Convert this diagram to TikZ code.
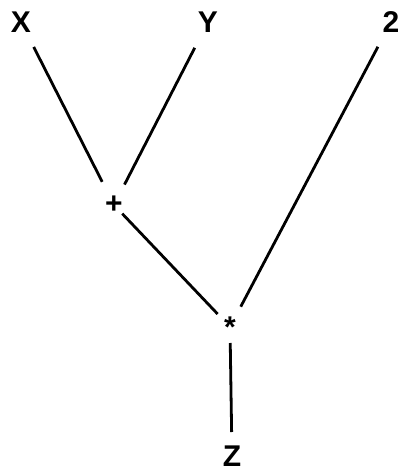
\documentclass[tikz,border=0pt]{standalone}
\usepackage{fontspec}
\setmainfont{Liberation Sans}
\begin{document}
\begin{tikzpicture}[x=1pt,y=-1pt,
  lbl/.style={font=\fontsize{30}{30}\selectfont\bfseries, inner sep=0pt},
  op/.style={font=\fontsize{30}{30}\selectfont\bfseries, inner sep=0pt},
  edge/.style={line width=2.8pt}]
\useasboundingbox (0,0) rectangle (400,474);
\node[lbl] (X) at (21,22) {X};
\node[lbl] (Y) at (208,22) {Y};
\node[lbl] (T) at (391,22) {2};
\node[op] (P) at (114,205) {+};
\node[op] (S) at (230,327) {*};
\node[lbl] (Z) at (232,456) {Z};
\draw[edge, shorten <=28pt, shorten >=26pt] (X.center) -- (P.center);
\draw[edge, shorten <=29pt, shorten >=23pt] (Y.center) -- (P.center);
\draw[edge, shorten <=12pt, shorten >=18pt] (P.center) -- (S.center);
\draw[edge, shorten <=28pt, shorten >=23pt] (T.center) -- (S.center);
\draw[edge, shorten <=16pt, shorten >=24pt] (S.center) -- (Z.center);
\end{tikzpicture}
\end{document}
